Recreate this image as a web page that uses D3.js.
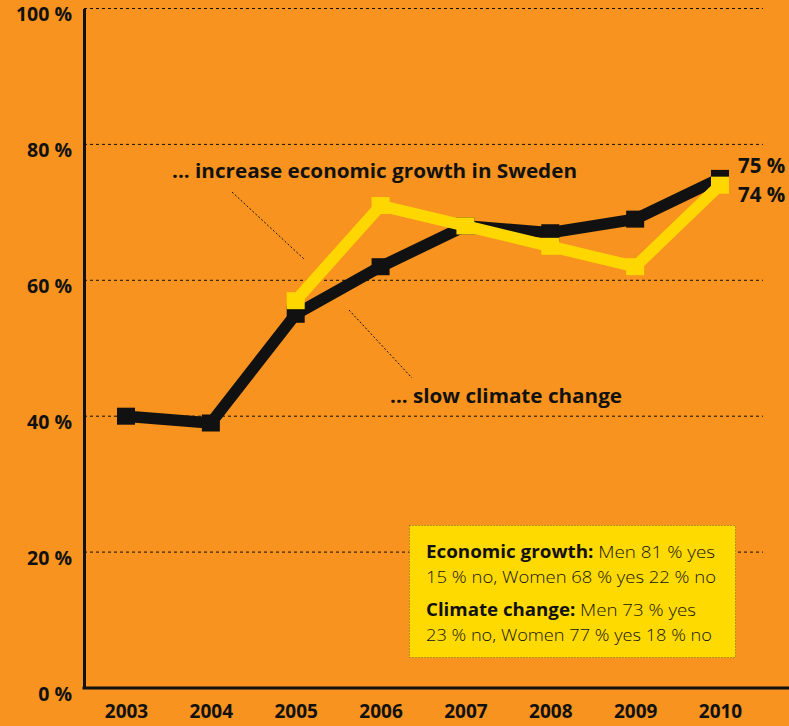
<!DOCTYPE html>
<html>
<head>
<meta charset="utf-8">
<script src="https://cdn.jsdelivr.net/npm/d3@7"></script>
<style>
  html, body { margin: 0; padding: 0; background: #F7931E; }
  svg { display: block; }
</style>
</head>
<body>
<svg id="chart" width="789" height="726"></svg>
<script>
// Survey: share answering "yes", by year
const years = [2003, 2004, 2005, 2006, 2007, 2008, 2009, 2010];
const economicGrowth = [40, 39, 55, 62, 68, 67, 69, 75];
const climateYears = [2005, 2006, 2007, 2008, 2009, 2010];
const climateChange = [57, 71, 68, 65, 62, 74];
const yTicks = [0, 20, 40, 60, 80, 100];

const orange = "#F7931E";
const yellow = "#FFD700";
const ink = "#111";
const tickFont = "'Open Sans', sans-serif";

const svg = d3.select("#chart");
svg.append("rect").attr("width", 789).attr("height", 726).attr("fill", orange);

const x = d3.scalePoint().domain(years).range([126, 720]);
const y = d3.scaleLinear().domain([0, 100]).range([688, 8.5]);

// dotted gridlines
svg.append("g")
  .selectAll("line")
  .data(yTicks.filter(d => d > 0))
  .join("line")
  .attr("x1", 84).attr("x2", 763)
  .attr("y1", d => y(d)).attr("y2", d => y(d))
  .attr("stroke", ink).attr("stroke-width", 1)
  .attr("stroke-dasharray", "3,3");

// y axis
const yAxis = svg.append("g")
  .attr("transform", "translate(84,0)")
  .call(d3.axisLeft(y).tickValues(yTicks).tickSize(0).tickPadding(12).tickFormat(d => d + " %"));
yAxis.select(".domain").attr("stroke", ink).attr("stroke-width", 3);
yAxis.selectAll("text")
  .attr("font-family", tickFont)
  .attr("font-weight", 700)
  .attr("font-size", 19.5)
  .attr("fill", ink)
  .attr("dy", 12);

// x axis
const xAxis = svg.append("g")
  .attr("transform", "translate(0,688)")
  .call(d3.axisBottom(x).tickSize(0).tickPadding(17).tickFormat(d3.format("d")));
xAxis.select(".domain").remove();
svg.append("line")
  .attr("x1", 82.5).attr("x2", 789).attr("y1", 688).attr("y2", 688)
  .attr("stroke", ink).attr("stroke-width", 3);
xAxis.selectAll("text")
  .attr("font-family", tickFont)
  .attr("font-weight", 700)
  .attr("font-size", 19)
  .attr("fill", ink);

// series
const series = [
  { xs: years, vals: economicGrowth, color: ink },
  { xs: climateYears, vals: climateChange, color: yellow }
];
const line = d3.line().x(d => x(d[0])).y(d => y(d[1]));
series.forEach(s => {
  const pts = s.xs.map((yr, i) => [yr, s.vals[i]]);
  svg.append("path")
    .datum(pts)
    .attr("d", line)
    .attr("fill", "none")
    .attr("stroke", s.color)
    .attr("stroke-width", 11.5)
    .attr("stroke-linejoin", "miter");
  svg.append("g")
    .selectAll("rect")
    .data(pts)
    .join("rect")
    .attr("x", d => x(d[0]) - 9)
    .attr("y", d => y(d[1]) - 8.5)
    .attr("width", 18)
    .attr("height", 17)
    .attr("fill", s.color);
});

// end labels
const lastEco = economicGrowth[economicGrowth.length - 1];
const lastClim = climateChange[climateChange.length - 1];
const endFont = "'Open Sans', sans-serif";
svg.append("text")
  .attr("x", 738).attr("y", y(lastEco) - 5)
  .attr("font-family", endFont).attr("font-weight", 700).attr("font-size", 20.5)
  .attr("fill", ink).text(lastEco + " %");
svg.append("text")
  .attr("x", 738).attr("y", y(lastClim) + 17)
  .attr("font-family", endFont).attr("font-weight", 700).attr("font-size", 20.5)
  .attr("fill", ink).text(lastClim + " %");

// annotations with dotted leaders
const annFont = "'Open Sans', sans-serif";
svg.append("text")
  .attr("x", 172).attr("y", 178)
  .attr("font-family", annFont).attr("font-weight", 700).attr("font-size", 19.5)
  .attr("textLength", 405).attr("lengthAdjust", "spacingAndGlyphs")
  .attr("fill", ink).text("... increase economic growth in Sweden");
svg.append("line")
  .attr("x1", 232).attr("y1", 192).attr("x2", 304).attr("y2", 259)
  .attr("stroke", ink).attr("stroke-width", 1).attr("stroke-dasharray", "2,2");

svg.append("text")
  .attr("x", 390).attr("y", 403)
  .attr("font-family", annFont).attr("font-weight", 700).attr("font-size", 19.5)
  .attr("textLength", 232).attr("lengthAdjust", "spacingAndGlyphs")
  .attr("fill", ink).text("... slow climate change");
svg.append("line")
  .attr("x1", 349).attr("y1", 310).attr("x2", 412).attr("y2", 378)
  .attr("stroke", ink).attr("stroke-width", 1).attr("stroke-dasharray", "2,2");

// info box
svg.append("rect")
  .attr("x", 409.5).attr("y", 525.5).attr("width", 326).attr("height", 132)
  .attr("fill", "#FFDA00")
  .attr("stroke", "#7a6a20").attr("stroke-width", 1).attr("stroke-dasharray", "1,2");

const boxLines = [
  { y: 558, bold: "Economic growth:", rest: " Men 81 % yes", len: 289 },
  { y: 583, bold: "", rest: "15 % no, Women 68 % yes 22 % no", len: 290 },
  { y: 616, bold: "Climate change:", rest: " Men 73 % yes", len: 270 },
  { y: 641, bold: "", rest: "23 % no, Women 77 % yes 18 % no", len: 286 }
];
boxLines.forEach(l => {
  const t = svg.append("text")
    .attr("x", 426).attr("y", l.y)
    .attr("font-family", "'Open Sans', sans-serif")
    .attr("font-size", 17)
    .attr("textLength", l.len).attr("lengthAdjust", "spacingAndGlyphs")
    .attr("fill", ink);
  if (l.bold) t.append("tspan").attr("font-weight", 700).text(l.bold);
  t.append("tspan").attr("font-weight", 300).text(l.rest);
});
</script>
</body>
</html>
